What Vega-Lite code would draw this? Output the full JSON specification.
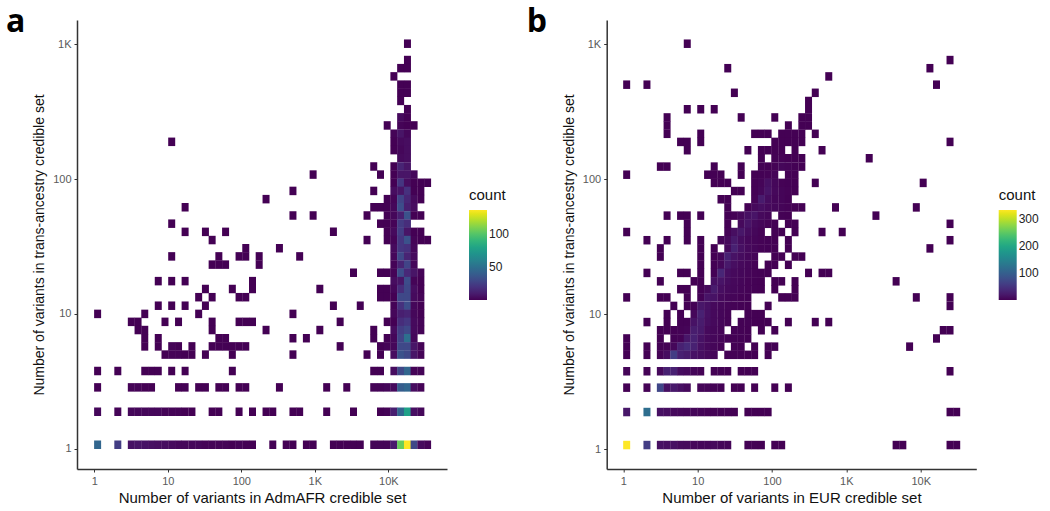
{"$schema":"https://vega.github.io/schema/vega-lite/v6.json","background":"white","padding":{"left":6,"top":6,"right":0,"bottom":0},"spacing":16.7,
"datasets":{"a":[
{"x":18200,"y":1010,"n":1},{"x":18200,"y":764,"n":1},{"x":14700,"y":665,"n":1},{"x":18200,"y":665,"n":1},{"x":11900,"y":578,"n":1},{"x":14700,"y":502,"n":1},{"x":18200,"y":502,"n":1},{"x":14700,"y":437,"n":1},{"x":18200,"y":437,"n":1},{"x":14700,"y":380,"n":1},{"x":18200,"y":330,"n":1},{"x":14700,"y":287,"n":4},{"x":18200,"y":287,"n":1},
{"x":9650,"y":250,"n":1},{"x":14700,"y":250,"n":2},{"x":18200,"y":250,"n":1},{"x":22400,"y":250,"n":1},
{"x":11900,"y":217,"n":2},{"x":14700,"y":217,"n":8},{"x":18200,"y":217,"n":3},
{"x":11.3,"y":189,"n":1},{"x":11900,"y":189,"n":1},{"x":14700,"y":189,"n":4},{"x":18200,"y":189,"n":5},
{"x":11900,"y":164,"n":1},{"x":14700,"y":164,"n":3},{"x":18200,"y":164,"n":5},
{"x":14700,"y":143,"n":4},{"x":18200,"y":143,"n":5},
{"x":6330,"y":124,"n":1},{"x":11900,"y":124,"n":1},{"x":14700,"y":124,"n":14},{"x":18200,"y":124,"n":8},
{"x":948,"y":108,"n":1},{"x":7820,"y":108,"n":1},{"x":11900,"y":108,"n":1},{"x":14700,"y":108,"n":8},{"x":18200,"y":108,"n":8},{"x":22400,"y":108,"n":3},
{"x":11900,"y":93.9,"n":1},{"x":14700,"y":93.9,"n":22},{"x":18200,"y":93.9,"n":5},{"x":22400,"y":93.9,"n":1},{"x":27700,"y":93.9,"n":1},{"x":34200,"y":93.9,"n":1},
{"x":504,"y":81.7,"n":1},{"x":6330,"y":81.7,"n":1},{"x":11900,"y":81.7,"n":5},{"x":14700,"y":81.7,"n":8},{"x":18200,"y":81.7,"n":20},{"x":22400,"y":81.7,"n":1},{"x":27700,"y":81.7,"n":1},
{"x":217,"y":71,"n":1},{"x":9650,"y":71,"n":1},{"x":11900,"y":71,"n":2},{"x":14700,"y":71,"n":28},{"x":18200,"y":71,"n":15},{"x":22400,"y":71,"n":4},{"x":27700,"y":71,"n":1},
{"x":17.2,"y":61.8,"n":1},{"x":6330,"y":61.8,"n":1},{"x":7820,"y":61.8,"n":1},{"x":9650,"y":61.8,"n":1},{"x":11900,"y":61.8,"n":3},{"x":14700,"y":61.8,"n":32},{"x":18200,"y":61.8,"n":12},{"x":22400,"y":61.8,"n":5},
{"x":504,"y":53.7,"n":1},{"x":948,"y":53.7,"n":1},{"x":5130,"y":53.7,"n":1},{"x":9650,"y":53.7,"n":1},{"x":11900,"y":53.7,"n":3},{"x":14700,"y":53.7,"n":12},{"x":18200,"y":53.7,"n":35},{"x":22400,"y":53.7,"n":1},{"x":27700,"y":53.7,"n":1},
{"x":11.3,"y":46.7,"n":1},{"x":7820,"y":46.7,"n":1},{"x":9650,"y":46.7,"n":1},{"x":11900,"y":46.7,"n":2},{"x":14700,"y":46.7,"n":24},{"x":18200,"y":46.7,"n":18},
{"x":17.2,"y":40.6,"n":1},{"x":32.5,"y":40.6,"n":1},{"x":61.1,"y":40.6,"n":1},{"x":1790,"y":40.6,"n":1},{"x":9650,"y":40.6,"n":1},{"x":11900,"y":40.6,"n":4},{"x":14700,"y":40.6,"n":25},{"x":18200,"y":40.6,"n":8},{"x":22400,"y":40.6,"n":1},{"x":27700,"y":40.6,"n":1},
{"x":40.1,"y":35.3,"n":1},{"x":5130,"y":35.3,"n":1},{"x":9650,"y":35.3,"n":1},{"x":11900,"y":35.3,"n":2},{"x":14700,"y":35.3,"n":22},{"x":18200,"y":35.3,"n":35},{"x":22400,"y":35.3,"n":2},{"x":27700,"y":35.3,"n":1},{"x":34200,"y":35.3,"n":1},
{"x":115,"y":30.7,"n":1},{"x":330,"y":30.7,"n":1},{"x":11900,"y":30.7,"n":4},{"x":14700,"y":30.7,"n":22},{"x":18200,"y":30.7,"n":20},{"x":22400,"y":30.7,"n":3},
{"x":11.3,"y":26.7,"n":1},{"x":49.5,"y":26.7,"n":1},{"x":93.2,"y":26.7,"n":1},{"x":115,"y":26.7,"n":1},{"x":175,"y":26.7,"n":1},{"x":622,"y":26.7,"n":1},{"x":11900,"y":26.7,"n":3},{"x":14700,"y":26.7,"n":30},{"x":18200,"y":26.7,"n":14},{"x":22400,"y":26.7,"n":4},
{"x":40.1,"y":23.2,"n":1},{"x":49.5,"y":23.2,"n":1},{"x":61.1,"y":23.2,"n":1},{"x":175,"y":23.2,"n":1},{"x":11900,"y":23.2,"n":2},{"x":14700,"y":23.2,"n":14},{"x":18200,"y":23.2,"n":28},{"x":22400,"y":23.2,"n":3},
{"x":3360,"y":20.2,"n":1},{"x":7820,"y":20.2,"n":1},{"x":9650,"y":20.2,"n":1},{"x":11900,"y":20.2,"n":2},{"x":14700,"y":20.2,"n":32},{"x":18200,"y":20.2,"n":16},{"x":22400,"y":20.2,"n":8},{"x":27700,"y":20.2,"n":2},
{"x":7.42,"y":17.5,"n":1},{"x":11.3,"y":17.5,"n":1},{"x":17.2,"y":17.5,"n":1},{"x":142,"y":17.5,"n":1},{"x":11900,"y":17.5,"n":5},{"x":14700,"y":17.5,"n":8},{"x":18200,"y":17.5,"n":32},{"x":22400,"y":17.5,"n":2},{"x":27700,"y":17.5,"n":1},
{"x":32.5,"y":15.3,"n":1},{"x":75.5,"y":15.3,"n":1},{"x":142,"y":15.3,"n":1},{"x":1170,"y":15.3,"n":1},{"x":7820,"y":15.3,"n":1},{"x":9650,"y":15.3,"n":1},{"x":11900,"y":15.3,"n":3},{"x":14700,"y":15.3,"n":18},{"x":18200,"y":15.3,"n":30},{"x":22400,"y":15.3,"n":5},{"x":27700,"y":15.3,"n":1},
{"x":26.3,"y":13.3,"n":1},{"x":40.1,"y":13.3,"n":1},{"x":93.2,"y":13.3,"n":1},{"x":115,"y":13.3,"n":1},{"x":7820,"y":13.3,"n":1},{"x":9650,"y":13.3,"n":1},{"x":11900,"y":13.3,"n":1},{"x":14700,"y":13.3,"n":30},{"x":18200,"y":13.3,"n":30},{"x":22400,"y":13.3,"n":4},{"x":27700,"y":13.3,"n":2},
{"x":7.42,"y":11.5,"n":1},{"x":11.3,"y":11.5,"n":1},{"x":17.2,"y":11.5,"n":1},{"x":32.5,"y":11.5,"n":1},{"x":1790,"y":11.5,"n":1},{"x":4150,"y":11.5,"n":1},{"x":11900,"y":11.5,"n":2},{"x":14700,"y":11.5,"n":20},{"x":18200,"y":11.5,"n":32},{"x":22400,"y":11.5,"n":3},{"x":27700,"y":11.5,"n":1},
{"x":1.11,"y":10,"n":1},{"x":4.86,"y":10,"n":1},{"x":26.3,"y":10,"n":1},{"x":504,"y":10,"n":1},{"x":11900,"y":10,"n":3},{"x":14700,"y":10,"n":12},{"x":18200,"y":10,"n":14},{"x":22400,"y":10,"n":3},{"x":27700,"y":10,"n":1},
{"x":3.19,"y":8.73,"n":1},{"x":3.94,"y":8.73,"n":1},{"x":9.16,"y":8.73,"n":1},{"x":14,"y":8.73,"n":1},{"x":40.1,"y":8.73,"n":1},{"x":93.2,"y":8.73,"n":1},{"x":115,"y":8.73,"n":1},{"x":142,"y":8.73,"n":1},{"x":2210,"y":8.73,"n":1},{"x":9650,"y":8.73,"n":1},{"x":11900,"y":8.73,"n":1},{"x":14700,"y":8.73,"n":18},{"x":18200,"y":8.73,"n":22},{"x":22400,"y":8.73,"n":4},{"x":27700,"y":8.73,"n":2},
{"x":3.94,"y":7.59,"n":1},{"x":4.86,"y":7.59,"n":1},{"x":40.1,"y":7.59,"n":1},{"x":217,"y":7.59,"n":1},{"x":1170,"y":7.59,"n":1},{"x":6330,"y":7.59,"n":1},{"x":11900,"y":7.59,"n":5},{"x":14700,"y":7.59,"n":25},{"x":18200,"y":7.59,"n":30},{"x":22400,"y":7.59,"n":4},{"x":27700,"y":7.59,"n":2},
{"x":4.86,"y":6.6,"n":1},{"x":7.42,"y":6.6,"n":1},{"x":49.5,"y":6.6,"n":1},{"x":61.1,"y":6.6,"n":1},{"x":504,"y":6.6,"n":1},{"x":768,"y":6.6,"n":1},{"x":6330,"y":6.6,"n":1},{"x":9650,"y":6.6,"n":1},{"x":11900,"y":6.6,"n":3},{"x":14700,"y":6.6,"n":28},{"x":18200,"y":6.6,"n":50},{"x":22400,"y":6.6,"n":3},
{"x":4.86,"y":5.74,"n":1},{"x":7.42,"y":5.74,"n":1},{"x":11.3,"y":5.74,"n":2},{"x":14,"y":5.74,"n":1},{"x":21.3,"y":5.74,"n":1},{"x":40.1,"y":5.74,"n":1},{"x":49.5,"y":5.74,"n":1},{"x":61.1,"y":5.74,"n":1},{"x":75.5,"y":5.74,"n":1},{"x":93.2,"y":5.74,"n":1},{"x":115,"y":5.74,"n":1},{"x":2210,"y":5.74,"n":1},{"x":7820,"y":5.74,"n":1},{"x":9650,"y":5.74,"n":2},{"x":11900,"y":5.74,"n":3},{"x":14700,"y":5.74,"n":30},{"x":18200,"y":5.74,"n":30},{"x":22400,"y":5.74,"n":8},{"x":27700,"y":5.74,"n":2},
{"x":9.16,"y":4.99,"n":1},{"x":11.3,"y":4.99,"n":2},{"x":14,"y":4.99,"n":2},{"x":17.2,"y":4.99,"n":1},{"x":21.3,"y":4.99,"n":1},{"x":32.5,"y":4.99,"n":1},{"x":75.5,"y":4.99,"n":1},{"x":504,"y":4.99,"n":1},{"x":5130,"y":4.99,"n":1},{"x":7820,"y":4.99,"n":1},{"x":11900,"y":4.99,"n":5},{"x":14700,"y":4.99,"n":35},{"x":18200,"y":4.99,"n":30},{"x":22400,"y":4.99,"n":8},{"x":27700,"y":4.99,"n":2},
{"x":1.11,"y":3.77,"n":1},{"x":2.09,"y":3.77,"n":1},{"x":4.86,"y":3.77,"n":1},{"x":6.01,"y":3.77,"n":1},{"x":7.42,"y":3.77,"n":1},{"x":11.3,"y":3.77,"n":1},{"x":17.2,"y":3.77,"n":1},{"x":75.5,"y":3.77,"n":1},{"x":6330,"y":3.77,"n":1},{"x":7820,"y":3.77,"n":1},{"x":11900,"y":3.77,"n":5},{"x":14700,"y":3.77,"n":30},{"x":18200,"y":3.77,"n":45},{"x":22400,"y":3.77,"n":2},{"x":27700,"y":3.77,"n":2},
{"x":1.11,"y":2.85,"n":1},{"x":3.19,"y":2.85,"n":2},{"x":3.94,"y":2.85,"n":2},{"x":4.86,"y":2.85,"n":1},{"x":6.01,"y":2.85,"n":1},{"x":14,"y":2.85,"n":1},{"x":17.2,"y":2.85,"n":1},{"x":26.3,"y":2.85,"n":1},{"x":32.5,"y":2.85,"n":1},{"x":49.5,"y":2.85,"n":1},{"x":61.1,"y":2.85,"n":1},{"x":93.2,"y":2.85,"n":1},{"x":115,"y":2.85,"n":1},{"x":330,"y":2.85,"n":1},{"x":1450,"y":2.85,"n":1},{"x":2720,"y":2.85,"n":1},{"x":6330,"y":2.85,"n":2},{"x":7820,"y":2.85,"n":2},{"x":9650,"y":2.85,"n":3},{"x":11900,"y":2.85,"n":4},{"x":14700,"y":2.85,"n":40},{"x":18200,"y":2.85,"n":45},{"x":22400,"y":2.85,"n":5},{"x":27700,"y":2.85,"n":2},
{"x":1.11,"y":1.88,"n":3},{"x":2.09,"y":1.88,"n":2},{"x":3.19,"y":1.88,"n":3},{"x":3.94,"y":1.88,"n":3},{"x":4.86,"y":1.88,"n":3},{"x":6.01,"y":1.88,"n":3},{"x":7.42,"y":1.88,"n":3},{"x":9.16,"y":1.88,"n":2},{"x":11.3,"y":1.88,"n":2},{"x":14,"y":1.88,"n":2},{"x":17.2,"y":1.88,"n":1},{"x":21.3,"y":1.88,"n":1},{"x":40.1,"y":1.88,"n":1},{"x":49.5,"y":1.88,"n":1},{"x":93.2,"y":1.88,"n":1},{"x":142,"y":1.88,"n":1},{"x":217,"y":1.88,"n":1},{"x":268,"y":1.88,"n":1},{"x":504,"y":1.88,"n":1},{"x":622,"y":1.88,"n":1},{"x":1450,"y":1.88,"n":1},{"x":3360,"y":1.88,"n":1},{"x":7820,"y":1.88,"n":1},{"x":9650,"y":1.88,"n":2},{"x":11900,"y":1.88,"n":12},{"x":14700,"y":1.88,"n":45},{"x":18200,"y":1.88,"n":78},{"x":22400,"y":1.88,"n":6},{"x":27700,"y":1.88,"n":3},
{"x":1.11,"y":1.07,"n":45},{"x":2.09,"y":1.07,"n":25},{"x":3.19,"y":1.07,"n":7},{"x":3.94,"y":1.07,"n":8},{"x":4.86,"y":1.07,"n":7},{"x":6.01,"y":1.07,"n":6},{"x":7.42,"y":1.07,"n":5},{"x":9.16,"y":1.07,"n":5},{"x":11.3,"y":1.07,"n":4},{"x":14,"y":1.07,"n":3},{"x":17.2,"y":1.07,"n":3},{"x":21.3,"y":1.07,"n":3},{"x":26.3,"y":1.07,"n":3},{"x":32.5,"y":1.07,"n":2},{"x":40.1,"y":1.07,"n":2},{"x":49.5,"y":1.07,"n":2},{"x":61.1,"y":1.07,"n":2},{"x":75.5,"y":1.07,"n":1},{"x":93.2,"y":1.07,"n":2},{"x":115,"y":1.07,"n":1},{"x":142,"y":1.07,"n":1},{"x":268,"y":1.07,"n":1},{"x":408,"y":1.07,"n":1},{"x":504,"y":1.07,"n":1},{"x":768,"y":1.07,"n":1},{"x":948,"y":1.07,"n":1},{"x":1790,"y":1.07,"n":1},{"x":2210,"y":1.07,"n":1},{"x":2720,"y":1.07,"n":1},{"x":3360,"y":1.07,"n":1},{"x":4150,"y":1.07,"n":1},{"x":6330,"y":1.07,"n":2},{"x":7820,"y":1.07,"n":2},{"x":9650,"y":1.07,"n":2},{"x":11900,"y":1.07,"n":10},{"x":14700,"y":1.07,"n":105},{"x":18200,"y":1.07,"n":136},{"x":22400,"y":1.07,"n":30},{"x":27700,"y":1.07,"n":4},{"x":34200,"y":1.07,"n":2}
],"b":[
{"x":7.25,"y":1010,"n":1},{"x":24800,"y":764,"n":1},{"x":25.4,"y":665,"n":1},{"x":13300,"y":665,"n":1},{"x":580,"y":578,"n":1},{"x":1.11,"y":502,"n":1},{"x":2.08,"y":502,"n":1},{"x":16300,"y":502,"n":1},{"x":31.2,"y":437,"n":1},{"x":382,"y":437,"n":1},{"x":310,"y":380,"n":1},
{"x":7.25,"y":330,"n":1},{"x":11,"y":330,"n":1},{"x":16.7,"y":330,"n":1},{"x":310,"y":330,"n":1},
{"x":3.88,"y":287,"n":1},{"x":38.5,"y":287,"n":1},{"x":109,"y":287,"n":1},{"x":252,"y":287,"n":1},{"x":310,"y":287,"n":1},
{"x":3.88,"y":250,"n":1},{"x":166,"y":250,"n":1},{"x":252,"y":250,"n":1},{"x":310,"y":250,"n":1},
{"x":3.88,"y":217,"n":1},{"x":11,"y":217,"n":1},{"x":58.4,"y":217,"n":1},{"x":72,"y":217,"n":1},{"x":88.7,"y":217,"n":1},{"x":135,"y":217,"n":1},{"x":166,"y":217,"n":1},{"x":204,"y":217,"n":1},{"x":252,"y":217,"n":1},{"x":382,"y":217,"n":1},
{"x":5.89,"y":189,"n":1},{"x":7.25,"y":189,"n":1},{"x":11,"y":189,"n":1},{"x":109,"y":189,"n":1},{"x":135,"y":189,"n":1},{"x":166,"y":189,"n":1},{"x":204,"y":189,"n":1},{"x":252,"y":189,"n":1},{"x":24800,"y":189,"n":1},
{"x":7.25,"y":164,"n":1},{"x":47.4,"y":164,"n":1},{"x":72,"y":164,"n":1},{"x":88.7,"y":164,"n":1},{"x":109,"y":164,"n":1},{"x":135,"y":164,"n":1},{"x":204,"y":164,"n":1},{"x":471,"y":164,"n":1},
{"x":72,"y":143,"n":1},{"x":109,"y":143,"n":2},{"x":135,"y":143,"n":3},{"x":166,"y":143,"n":1},{"x":204,"y":143,"n":1},{"x":252,"y":143,"n":1},{"x":2030,"y":143,"n":1},
{"x":3.15,"y":124,"n":1},{"x":3.88,"y":124,"n":1},{"x":16.7,"y":124,"n":1},{"x":38.5,"y":124,"n":1},{"x":72,"y":124,"n":2},{"x":88.7,"y":124,"n":1},{"x":109,"y":124,"n":3},{"x":135,"y":124,"n":6},{"x":166,"y":124,"n":4},{"x":204,"y":124,"n":2},{"x":252,"y":124,"n":1},
{"x":1.11,"y":108,"n":1},{"x":13.6,"y":108,"n":1},{"x":16.7,"y":108,"n":1},{"x":20.6,"y":108,"n":1},{"x":38.5,"y":108,"n":1},{"x":58.4,"y":108,"n":1},{"x":72,"y":108,"n":2},{"x":88.7,"y":108,"n":3},{"x":109,"y":108,"n":4},{"x":166,"y":108,"n":2},{"x":204,"y":108,"n":1},
{"x":16.7,"y":93.9,"n":1},{"x":20.6,"y":93.9,"n":1},{"x":25.4,"y":93.9,"n":1},{"x":58.4,"y":93.9,"n":2},{"x":72,"y":93.9,"n":4},{"x":88.7,"y":93.9,"n":14},{"x":109,"y":93.9,"n":6},{"x":135,"y":93.9,"n":3},{"x":166,"y":93.9,"n":2},{"x":204,"y":93.9,"n":1},{"x":382,"y":93.9,"n":1},{"x":10800,"y":93.9,"n":1},
{"x":31.2,"y":81.7,"n":1},{"x":38.5,"y":81.7,"n":1},{"x":58.4,"y":81.7,"n":2},{"x":72,"y":81.7,"n":6},{"x":88.7,"y":81.7,"n":18},{"x":109,"y":81.7,"n":7},{"x":135,"y":81.7,"n":4},{"x":166,"y":81.7,"n":3},{"x":204,"y":81.7,"n":1},
{"x":20.6,"y":71,"n":1},{"x":25.4,"y":71,"n":1},{"x":58.4,"y":71,"n":3},{"x":72,"y":71,"n":24},{"x":88.7,"y":71,"n":10},{"x":109,"y":71,"n":5},{"x":135,"y":71,"n":4},{"x":166,"y":71,"n":2},
{"x":25.4,"y":61.8,"n":1},{"x":47.4,"y":61.8,"n":1},{"x":58.4,"y":61.8,"n":8},{"x":72,"y":61.8,"n":12},{"x":88.7,"y":61.8,"n":8},{"x":109,"y":61.8,"n":6},{"x":135,"y":61.8,"n":4},{"x":166,"y":61.8,"n":3},{"x":204,"y":61.8,"n":1},{"x":252,"y":61.8,"n":1},{"x":714,"y":61.8,"n":1},{"x":8730,"y":61.8,"n":1},
{"x":3.88,"y":53.7,"n":1},{"x":5.89,"y":53.7,"n":1},{"x":7.25,"y":53.7,"n":1},{"x":11,"y":53.7,"n":1},{"x":25.4,"y":53.7,"n":2},{"x":31.2,"y":53.7,"n":3},{"x":38.5,"y":53.7,"n":7},{"x":47.4,"y":53.7,"n":14},{"x":58.4,"y":53.7,"n":18},{"x":72,"y":53.7,"n":8},{"x":88.7,"y":53.7,"n":5},{"x":135,"y":53.7,"n":2},{"x":166,"y":53.7,"n":1},{"x":2500,"y":53.7,"n":1},
{"x":7.25,"y":46.7,"n":1},{"x":25.4,"y":46.7,"n":1},{"x":38.5,"y":46.7,"n":8},{"x":47.4,"y":46.7,"n":18},{"x":58.4,"y":46.7,"n":9},{"x":72,"y":46.7,"n":5},{"x":88.7,"y":46.7,"n":3},{"x":109,"y":46.7,"n":2},{"x":166,"y":46.7,"n":1},{"x":204,"y":46.7,"n":1},{"x":24800,"y":46.7,"n":1},
{"x":1.11,"y":40.6,"n":1},{"x":7.25,"y":40.6,"n":1},{"x":25.4,"y":40.6,"n":3},{"x":31.2,"y":40.6,"n":12},{"x":38.5,"y":40.6,"n":20},{"x":47.4,"y":40.6,"n":10},{"x":58.4,"y":40.6,"n":6},{"x":72,"y":40.6,"n":3},{"x":109,"y":40.6,"n":2},{"x":135,"y":40.6,"n":1},{"x":204,"y":40.6,"n":1},{"x":471,"y":40.6,"n":1},{"x":880,"y":40.6,"n":1},
{"x":2.08,"y":35.3,"n":1},{"x":3.88,"y":35.3,"n":1},{"x":7.25,"y":35.3,"n":1},{"x":11,"y":35.3,"n":1},{"x":20.6,"y":35.3,"n":4},{"x":25.4,"y":35.3,"n":8},{"x":31.2,"y":35.3,"n":22},{"x":38.5,"y":35.3,"n":10},{"x":47.4,"y":35.3,"n":6},{"x":58.4,"y":35.3,"n":4},{"x":72,"y":35.3,"n":3},{"x":88.7,"y":35.3,"n":2},{"x":109,"y":35.3,"n":1},{"x":166,"y":35.3,"n":1},{"x":24800,"y":35.3,"n":1},
{"x":3.15,"y":30.7,"n":1},{"x":11,"y":30.7,"n":1},{"x":16.7,"y":30.7,"n":1},{"x":25.4,"y":30.7,"n":8},{"x":31.2,"y":30.7,"n":30},{"x":38.5,"y":30.7,"n":14},{"x":47.4,"y":30.7,"n":8},{"x":58.4,"y":30.7,"n":5},{"x":72,"y":30.7,"n":3},{"x":88.7,"y":30.7,"n":2},{"x":109,"y":30.7,"n":1},{"x":166,"y":30.7,"n":1},{"x":13300,"y":30.7,"n":1},
{"x":3.15,"y":26.7,"n":1},{"x":11,"y":26.7,"n":1},{"x":16.7,"y":26.7,"n":1},{"x":20.6,"y":26.7,"n":5},{"x":25.4,"y":26.7,"n":30},{"x":31.2,"y":26.7,"n":16},{"x":38.5,"y":26.7,"n":10},{"x":47.4,"y":26.7,"n":6},{"x":58.4,"y":26.7,"n":4},{"x":109,"y":26.7,"n":1},{"x":135,"y":26.7,"n":1},{"x":204,"y":26.7,"n":1},{"x":252,"y":26.7,"n":1},
{"x":11,"y":23.2,"n":1},{"x":16.7,"y":23.2,"n":1},{"x":20.6,"y":23.2,"n":6},{"x":25.4,"y":23.2,"n":22},{"x":31.2,"y":23.2,"n":12},{"x":38.5,"y":23.2,"n":8},{"x":47.4,"y":23.2,"n":5},{"x":58.4,"y":23.2,"n":3},{"x":88.7,"y":23.2,"n":1},{"x":109,"y":23.2,"n":1},{"x":166,"y":23.2,"n":1},
{"x":2.08,"y":20.2,"n":1},{"x":5.89,"y":20.2,"n":1},{"x":7.25,"y":20.2,"n":1},{"x":11,"y":20.2,"n":1},{"x":16.7,"y":20.2,"n":2},{"x":20.6,"y":20.2,"n":35},{"x":25.4,"y":20.2,"n":12},{"x":31.2,"y":20.2,"n":8},{"x":38.5,"y":20.2,"n":6},{"x":47.4,"y":20.2,"n":4},{"x":58.4,"y":20.2,"n":3},{"x":72,"y":20.2,"n":2},{"x":88.7,"y":20.2,"n":1},{"x":310,"y":20.2,"n":1},{"x":471,"y":20.2,"n":1},{"x":580,"y":20.2,"n":1},
{"x":3.15,"y":17.5,"n":1},{"x":8.94,"y":17.5,"n":1},{"x":11,"y":17.5,"n":1},{"x":16.7,"y":17.5,"n":14},{"x":20.6,"y":17.5,"n":18},{"x":25.4,"y":17.5,"n":10},{"x":31.2,"y":17.5,"n":7},{"x":38.5,"y":17.5,"n":5},{"x":47.4,"y":17.5,"n":3},{"x":58.4,"y":17.5,"n":2},{"x":72,"y":17.5,"n":1},{"x":109,"y":17.5,"n":1},{"x":135,"y":17.5,"n":1},{"x":204,"y":17.5,"n":1},{"x":4670,"y":17.5,"n":1},
{"x":5.89,"y":15.3,"n":1},{"x":7.25,"y":15.3,"n":1},{"x":11,"y":15.3,"n":2},{"x":13.6,"y":15.3,"n":8},{"x":16.7,"y":15.3,"n":25},{"x":20.6,"y":15.3,"n":12},{"x":25.4,"y":15.3,"n":8},{"x":31.2,"y":15.3,"n":6},{"x":38.5,"y":15.3,"n":4},{"x":47.4,"y":15.3,"n":3},{"x":58.4,"y":15.3,"n":2},{"x":72,"y":15.3,"n":1},{"x":109,"y":15.3,"n":1},{"x":204,"y":15.3,"n":1},
{"x":1.11,"y":13.3,"n":1},{"x":3.15,"y":13.3,"n":1},{"x":3.88,"y":13.3,"n":1},{"x":7.25,"y":13.3,"n":1},{"x":11,"y":13.3,"n":2},{"x":13.6,"y":13.3,"n":18},{"x":16.7,"y":13.3,"n":16},{"x":20.6,"y":13.3,"n":8},{"x":25.4,"y":13.3,"n":5},{"x":31.2,"y":13.3,"n":4},{"x":38.5,"y":13.3,"n":3},{"x":47.4,"y":13.3,"n":2},{"x":135,"y":13.3,"n":1},{"x":166,"y":13.3,"n":1},{"x":204,"y":13.3,"n":1},{"x":8730,"y":13.3,"n":1},{"x":24800,"y":13.3,"n":1},
{"x":4.78,"y":11.5,"n":1},{"x":7.25,"y":11.5,"n":1},{"x":8.94,"y":11.5,"n":2},{"x":11,"y":11.5,"n":20},{"x":13.6,"y":11.5,"n":14},{"x":16.7,"y":11.5,"n":8},{"x":20.6,"y":11.5,"n":6},{"x":25.4,"y":11.5,"n":4},{"x":31.2,"y":11.5,"n":3},{"x":38.5,"y":11.5,"n":2},{"x":47.4,"y":11.5,"n":1},{"x":88.7,"y":11.5,"n":1},{"x":24800,"y":11.5,"n":1},
{"x":3.88,"y":10,"n":1},{"x":5.89,"y":10,"n":1},{"x":8.94,"y":10,"n":6},{"x":11,"y":10,"n":30},{"x":13.6,"y":10,"n":14},{"x":16.7,"y":10,"n":8},{"x":20.6,"y":10,"n":5},{"x":25.4,"y":10,"n":3},{"x":47.4,"y":10,"n":1},{"x":58.4,"y":10,"n":1},{"x":72,"y":10,"n":1},
{"x":2.08,"y":8.73,"n":1},{"x":3.88,"y":8.73,"n":1},{"x":5.89,"y":8.73,"n":2},{"x":7.25,"y":8.73,"n":2},{"x":8.94,"y":8.73,"n":16},{"x":11,"y":8.73,"n":25},{"x":13.6,"y":8.73,"n":12},{"x":16.7,"y":8.73,"n":8},{"x":20.6,"y":8.73,"n":5},{"x":25.4,"y":8.73,"n":3},{"x":38.5,"y":8.73,"n":2},{"x":47.4,"y":8.73,"n":2},{"x":58.4,"y":8.73,"n":1},{"x":72,"y":8.73,"n":1},{"x":88.7,"y":8.73,"n":1},{"x":166,"y":8.73,"n":1},{"x":382,"y":8.73,"n":1},{"x":580,"y":8.73,"n":1},
{"x":3.15,"y":7.59,"n":1},{"x":3.88,"y":7.59,"n":1},{"x":4.78,"y":7.59,"n":1},{"x":5.89,"y":7.59,"n":3},{"x":7.25,"y":7.59,"n":4},{"x":8.94,"y":7.59,"n":26},{"x":11,"y":7.59,"n":22},{"x":13.6,"y":7.59,"n":8},{"x":16.7,"y":7.59,"n":6},{"x":20.6,"y":7.59,"n":4},{"x":31.2,"y":7.59,"n":2},{"x":38.5,"y":7.59,"n":2},{"x":47.4,"y":7.59,"n":1},{"x":72,"y":7.59,"n":1},{"x":109,"y":7.59,"n":1},{"x":20100,"y":7.59,"n":1},{"x":24800,"y":7.59,"n":1},
{"x":1.11,"y":6.6,"n":1},{"x":3.15,"y":6.6,"n":1},{"x":4.78,"y":6.6,"n":2},{"x":5.89,"y":6.6,"n":3},{"x":7.25,"y":6.6,"n":20},{"x":8.94,"y":6.6,"n":30},{"x":11,"y":6.6,"n":16},{"x":13.6,"y":6.6,"n":8},{"x":16.7,"y":6.6,"n":6},{"x":20.6,"y":6.6,"n":4},{"x":25.4,"y":6.6,"n":3},{"x":31.2,"y":6.6,"n":2},{"x":38.5,"y":6.6,"n":2},{"x":47.4,"y":6.6,"n":1},{"x":16300,"y":6.6,"n":1},
{"x":1.11,"y":5.74,"n":1},{"x":2.08,"y":5.74,"n":1},{"x":3.15,"y":5.74,"n":2},{"x":3.88,"y":5.74,"n":3},{"x":4.78,"y":5.74,"n":6},{"x":5.89,"y":5.74,"n":30},{"x":7.25,"y":5.74,"n":40},{"x":8.94,"y":5.74,"n":30},{"x":11,"y":5.74,"n":14},{"x":13.6,"y":5.74,"n":8},{"x":16.7,"y":5.74,"n":5},{"x":20.6,"y":5.74,"n":3},{"x":31.2,"y":5.74,"n":2},{"x":38.5,"y":5.74,"n":1},{"x":58.4,"y":5.74,"n":1},{"x":88.7,"y":5.74,"n":1},{"x":109,"y":5.74,"n":1},{"x":7090,"y":5.74,"n":1},
{"x":1.11,"y":4.99,"n":1},{"x":2.08,"y":4.99,"n":1},{"x":3.15,"y":4.99,"n":3},{"x":3.88,"y":4.99,"n":10},{"x":4.78,"y":4.99,"n":60},{"x":5.89,"y":4.99,"n":30},{"x":7.25,"y":4.99,"n":25},{"x":8.94,"y":4.99,"n":16},{"x":11,"y":4.99,"n":12},{"x":13.6,"y":4.99,"n":8},{"x":16.7,"y":4.99,"n":5},{"x":25.4,"y":4.99,"n":2},{"x":31.2,"y":4.99,"n":2},{"x":38.5,"y":4.99,"n":2},{"x":47.4,"y":4.99,"n":1},{"x":58.4,"y":4.99,"n":1},{"x":88.7,"y":4.99,"n":1},
{"x":1.11,"y":3.77,"n":4},{"x":2.08,"y":3.77,"n":3},{"x":3.15,"y":3.77,"n":8},{"x":3.88,"y":3.77,"n":30},{"x":4.78,"y":3.77,"n":30},{"x":5.89,"y":3.77,"n":10},{"x":7.25,"y":3.77,"n":8},{"x":8.94,"y":3.77,"n":5},{"x":11,"y":3.77,"n":3},{"x":16.7,"y":3.77,"n":2},{"x":20.6,"y":3.77,"n":2},{"x":25.4,"y":3.77,"n":1},{"x":38.5,"y":3.77,"n":1},{"x":47.4,"y":3.77,"n":1},{"x":58.4,"y":3.77,"n":1},{"x":24800,"y":3.77,"n":1},
{"x":1.11,"y":2.85,"n":1},{"x":2.08,"y":2.85,"n":3},{"x":3.15,"y":2.85,"n":70},{"x":3.88,"y":2.85,"n":14},{"x":4.78,"y":2.85,"n":22},{"x":5.89,"y":2.85,"n":14},{"x":7.25,"y":2.85,"n":8},{"x":11,"y":2.85,"n":5},{"x":13.6,"y":2.85,"n":4},{"x":16.7,"y":2.85,"n":3},{"x":20.6,"y":2.85,"n":2},{"x":31.2,"y":2.85,"n":1},{"x":38.5,"y":2.85,"n":1},{"x":58.4,"y":2.85,"n":1},{"x":109,"y":2.85,"n":1},{"x":166,"y":2.85,"n":1},
{"x":1.11,"y":1.88,"n":20},{"x":2.08,"y":1.88,"n":120},{"x":3.15,"y":1.88,"n":14},{"x":3.88,"y":1.88,"n":12},{"x":4.78,"y":1.88,"n":8},{"x":5.89,"y":1.88,"n":7},{"x":7.25,"y":1.88,"n":5},{"x":8.94,"y":1.88,"n":5},{"x":11,"y":1.88,"n":4},{"x":13.6,"y":1.88,"n":3},{"x":16.7,"y":1.88,"n":3},{"x":20.6,"y":1.88,"n":2},{"x":25.4,"y":1.88,"n":2},{"x":31.2,"y":1.88,"n":1},{"x":47.4,"y":1.88,"n":1},{"x":58.4,"y":1.88,"n":1},{"x":72,"y":1.88,"n":1},{"x":88.7,"y":1.88,"n":1},{"x":24800,"y":1.88,"n":1},{"x":30500,"y":1.88,"n":1},
{"x":1.11,"y":1.07,"n":334},{"x":2.08,"y":1.07,"n":60},{"x":3.15,"y":1.07,"n":14},{"x":3.88,"y":1.07,"n":12},{"x":4.78,"y":1.07,"n":14},{"x":5.89,"y":1.07,"n":9},{"x":7.25,"y":1.07,"n":8},{"x":8.94,"y":1.07,"n":7},{"x":11,"y":1.07,"n":6},{"x":13.6,"y":1.07,"n":6},{"x":16.7,"y":1.07,"n":8},{"x":20.6,"y":1.07,"n":5},{"x":25.4,"y":1.07,"n":4},{"x":47.4,"y":1.07,"n":2},{"x":58.4,"y":1.07,"n":2},{"x":72,"y":1.07,"n":1},{"x":109,"y":1.07,"n":1},{"x":135,"y":1.07,"n":1},{"x":4670,"y":1.07,"n":1},{"x":5750,"y":1.07,"n":1},{"x":24800,"y":1.07,"n":1},{"x":30500,"y":1.07,"n":1}
]},
"hconcat":[
{"width":370,"height":449,"data":{"name":"a"},
"title":{"text":"a","anchor":"start","frame":"group","offset":-19,"dx":-71,"fontSize":32,"fontWeight":"bold","font":"Open Sans","color":"black"},
"mark":{"type":"rect","width":7,"height":8.5},
"encoding":{
"x":{"field":"x","type":"quantitative","scale":{"type":"log","domain":[0.582,62800],"nice":false},"axis":{"title":"Number of variants in AdmAFR credible set","values":[1,10,100,1000,10000],"labelExpr":"datum.value>=1000?(datum.value/1000)+'K':''+datum.value"}},
"y":{"field":"y","type":"quantitative","scale":{"type":"log","domain":[0.707,1514],"nice":false},"axis":{"title":"Number of variants in trans-ancestry credible set","values":[1,10,100,1000],"labelExpr":"datum.value>=1000?(datum.value/1000)+'K':''+datum.value"}},
"color":{"field":"n","type":"quantitative","scale":{"scheme":"viridis","domain":[1,136]},"legend":{"title":"count","orient":"none","legendX":392,"legendY":168,"gradientLength":90,"gradientThickness":18,"values":[50,100],"direction":"vertical"}}}},
{"width":369.6,"height":449,"data":{"name":"b"},
"title":{"text":"b","anchor":"start","frame":"group","offset":-19,"dx":-80,"fontSize":32,"fontWeight":"bold","font":"Open Sans","color":"black"},
"mark":{"type":"rect","width":7,"height":8.5},
"encoding":{
"x":{"field":"x","type":"quantitative","scale":{"type":"log","domain":[0.598,55950],"nice":false},"axis":{"title":"Number of variants in EUR credible set","values":[1,10,100,1000,10000],"labelExpr":"datum.value>=1000?(datum.value/1000)+'K':''+datum.value"}},
"y":{"field":"y","type":"quantitative","scale":{"type":"log","domain":[0.711,1514],"nice":false},"axis":{"title":"Number of variants in trans-ancestry credible set","values":[1,10,100,1000],"labelExpr":"datum.value>=1000?(datum.value/1000)+'K':''+datum.value"}},
"color":{"field":"n","type":"quantitative","scale":{"scheme":"viridis","domain":[1,334]},"legend":{"title":"count","orient":"none","legendX":392,"legendY":168,"gradientLength":90,"gradientThickness":18,"values":[100,200,300],"direction":"vertical"}}}}
],
"resolve":{"scale":{"color":"independent"}},
"config":{"view":{"stroke":null},"font":"Liberation Sans",
"axis":{"grid":false,"domainColor":"#333333","domainWidth":1.5,"tickColor":"#333333","tickWidth":1,"tickSize":3,"labelColor":"#5a5a5a","labelFontSize":11,"labelFont":"Liberation Sans","titleFont":"Liberation Sans","titleFontWeight":"normal","titleColor":"#111111"},
"axisX":{"labelPadding":3,"titlePadding":4,"titleFontSize":15},
"axisY":{"labelPadding":3,"titlePadding":6,"titleFontSize":14},
"legend":{"titleFont":"Liberation Sans","titleFontSize":15,"titleFontWeight":"normal","titleColor":"#111111","labelFont":"Liberation Sans","labelFontSize":12,"labelColor":"#222222","titlePadding":7}}}
